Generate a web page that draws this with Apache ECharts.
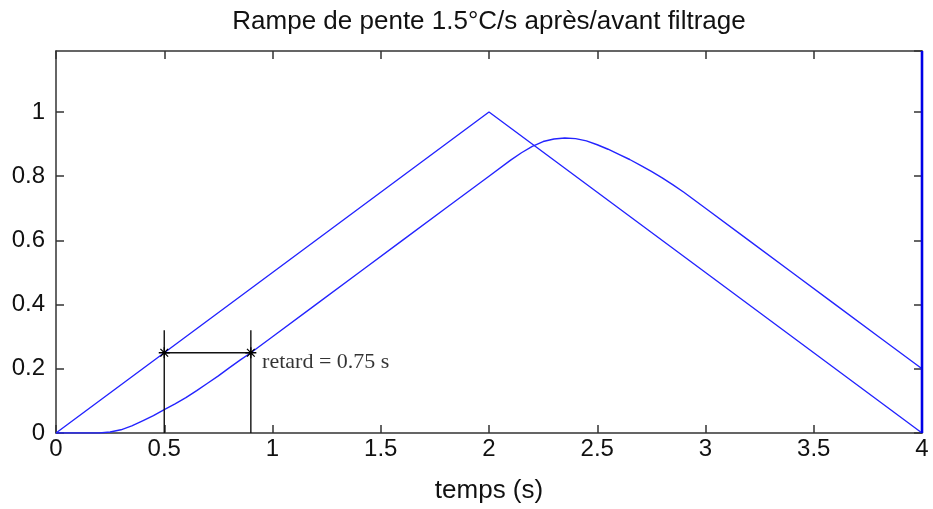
<!DOCTYPE html>
<html>
<head>
<meta charset="utf-8">
<script src="https://cdn.jsdelivr.net/npm/echarts@6/dist/echarts.min.js"></script>
<style>
  html, body { margin: 0; padding: 0; background: #ffffff; }
  #chart { width: 933px; height: 509px; }
</style>
</head>
<body>
<div id="chart"></div>
<script>
// Consigne : rampe montante (1 à t = 2 s) puis descendante
const rampTime  = [0, 2, 4];
const rampValue = [0, 1, 0];

// Sortie du filtre (relevé point par point)
const filtTime  = [0, 0.1, 0.2, 0.25, 0.3, 0.35, 0.4, 0.45, 0.5, 0.55, 0.6, 0.65, 0.7, 0.75, 0.8, 0.85, 0.9, 1.0, 1.2, 1.4, 1.6, 1.8, 2.0, 2.1, 2.15, 2.2, 2.25, 2.3, 2.35, 2.4, 2.45, 2.5, 2.55, 2.6, 2.65, 2.7, 2.75, 2.8, 2.85, 2.9, 3.0, 3.2, 3.4, 3.6, 3.8, 4.0];
const filtValue = [0, 0, 0, 0.003, 0.010, 0.022, 0.038, 0.054, 0.073, 0.091, 0.110, 0.132, 0.155, 0.178, 0.203, 0.227, 0.250, 0.300, 0.400, 0.500, 0.600, 0.700, 0.800, 0.850, 0.873, 0.893, 0.908, 0.916, 0.919, 0.917, 0.910, 0.898, 0.884, 0.868, 0.852, 0.834, 0.815, 0.795, 0.773, 0.750, 0.700, 0.600, 0.500, 0.400, 0.300, 0.200];

// Trait vertical en bout de simulation (t = 4 s)
const edgeTime  = [4, 4];
const edgeValue = [0, 1.19];

// Mesure du retard entre consigne et sortie
const delayTimes = [0.5, 0.9];
const delayLevel = 0.25;
const delayTop   = 0.32;
const delayLabel = 'retard = 0.75 s';
const delayLabelPos = [0.952, 0.222];

// Axes
const xMin = 0, xMax = 4, xStep = 0.5;
const yMin = 0, yMax = 1.19, yStep = 0.2;

const zip = (a, b) => a.map((v, i) => [v, b[i]]);

const axisColor = '#333333';
const lineBlue = '#2424ff';
const sansFont = '"Liberation Sans", Arial, sans-serif';

const chart = echarts.init(document.getElementById('chart'), null, { renderer: 'canvas' });

const axisLine = { show: true, onZero: false, lineStyle: { color: axisColor, width: 1.5 } };
const axisTick = { show: true, inside: true, length: 8, lineStyle: { color: axisColor, width: 1.5 } };

const starPath = 'path://M0,-10L0,10M-10,0L10,0M-7,-7L7,7M-7,7L7,-7';

chart.setOption({
  animation: false,
  backgroundColor: '#ffffff',
  title: {
    text: 'Rampe de pente 1.5°C/s après/avant filtrage',
    left: 484, textAlign: 'center', top: 4,
    textStyle: { fontFamily: sansFont, fontSize: 26, fontWeight: 'normal', color: '#111' }
  },
  grid: { left: 56, right: 11, top: 51, bottom: 76, containLabel: false },
  xAxis: [
    {
      type: 'value', min: xMin, max: xMax, interval: xStep, position: 'bottom',
      axisLine, axisTick, splitLine: { show: false },
      axisLabel: { color: '#111', fontFamily: sansFont, fontSize: 24, margin: 4 },
      name: 'temps (s)', nameLocation: 'middle', nameGap: 45,
      nameTextStyle: { color: '#111', fontFamily: sansFont, fontSize: 26 }
    },
    {
      type: 'value', min: xMin, max: xMax, interval: xStep, position: 'top',
      axisLine, axisTick, splitLine: { show: false }, axisLabel: { show: false }
    }
  ],
  yAxis: [
    {
      type: 'value', min: yMin, max: yMax, interval: yStep, position: 'left',
      axisLine, axisTick, splitLine: { show: false },
      axisLabel: { color: '#111', fontFamily: sansFont, fontSize: 24, margin: 11, showMaxLabel: false }
    },
    {
      type: 'value', min: yMin, max: yMax, interval: yStep, position: 'right',
      axisLine, axisTick, splitLine: { show: false }, axisLabel: { show: false }
    }
  ],
  series: [
    {
      name: 'consigne', type: 'line', data: zip(rampTime, rampValue),
      showSymbol: false, lineStyle: { color: lineBlue, width: 1.4 }, z: 3
    },
    {
      name: 'sortie', type: 'line', data: zip(filtTime, filtValue),
      showSymbol: false, lineStyle: { color: lineBlue, width: 1.4 }, z: 3
    },
    {
      name: 'bord', type: 'line', data: zip(edgeTime, edgeValue),
      showSymbol: false, lineStyle: { color: '#0000e6', width: 2.6 }, z: 3
    },
    // repères verticaux
    ...delayTimes.map(t => ({
      type: 'line', data: [[t, 0], [t, delayTop]],
      showSymbol: false, lineStyle: { color: '#111', width: 1.4 }, z: 4
    })),
    // segment horizontal et étoiles
    {
      type: 'line', data: delayTimes.map(t => [t, delayLevel]),
      symbol: starPath, symbolSize: 11, showSymbol: true,
      itemStyle: { color: 'none', borderColor: '#000', borderWidth: 1.3 },
      lineStyle: { color: '#111', width: 1.4 }, z: 5
    },
    {
      type: 'scatter', data: [delayLabelPos], symbolSize: 0,
      label: {
        show: true, position: 'right', distance: 0,
        formatter: delayLabel,
        fontFamily: '"Liberation Serif", "Times New Roman", serif',
        fontSize: 22, color: '#000'
      }, z: 6
    }
  ]
});
</script>
</body>
</html>
